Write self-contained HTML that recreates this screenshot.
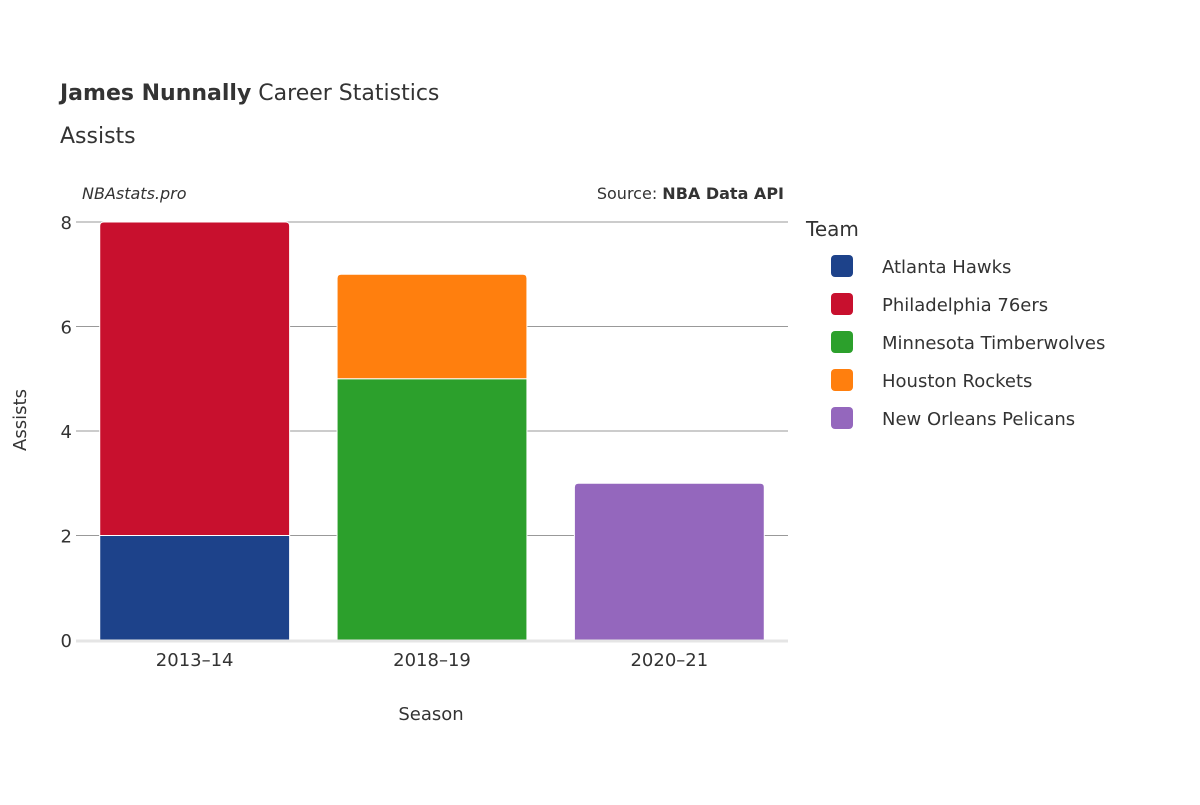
<!DOCTYPE html>
<html><head><meta charset="utf-8"><style>
body{margin:0;background:#fff;}
svg text{font-family:"DejaVu Sans","Liberation Sans",sans-serif;fill:#333;}
</style></head><body>
<svg id="chart" width="1200" height="800" xmlns="http://www.w3.org/2000/svg">
<text x="60" y="100" font-size="22"><tspan font-weight="bold">James Nunnally</tspan> Career Statistics</text>
<text x="60" y="143" font-size="22">Assists</text>
<text x="82" y="199" font-size="16" font-style="italic">NBAstats.pro</text>
<text x="784" y="199" font-size="16" text-anchor="end">Source: <tspan font-weight="bold">NBA Data API</tspan></text>
<g id="grid"></g>
<g id="bars"></g>
<g id="axes"></g>
<text x="431" y="720" font-size="18" text-anchor="middle">Season</text>
<text transform="translate(26,420) rotate(-90)" font-size="18" text-anchor="middle">Assists</text>
<g id="legend"></g>
</svg>
<script>
const seasons=["2013–14","2018–19","2020–21"];
const teams=["Atlanta Hawks","Philadelphia 76ers","Minnesota Timberwolves","Houston Rockets","New Orleans Pelicans"];
const colors=["#1d428a","#c8102e","#2ca02c","#ff7f0e","#9467bd"];
const atl=[2,0,0];
const phi=[6,0,0];
const min=[0,5,0];
const hou=[0,2,0];
const nop=[0,0,3];
const yTicks=[0,2,4,6,8];
const series=[atl,phi,min,hou,nop];
const NS="http://www.w3.org/2000/svg";
const X0=76,X1=788,Y0=640,Y1=222,YMAX=8;
const band=(X1-X0)/seasons.length;
const y=v=>Y0-(v/YMAX)*(Y0-Y1);
const xc=i=>X0+band*(i+0.5);
function mk(tag,attrs,parent){const e=document.createElementNS(NS,tag);for(const k in attrs)e.setAttribute(k,attrs[k]);parent.appendChild(e);return e;}
const grid=document.getElementById('grid'),bars=document.getElementById('bars'),axes=document.getElementById('axes'),legend=document.getElementById('legend');
yTicks.forEach(t=>{
 if(t>0){const l=mk('line',{x1:X0,x2:X1,y1:y(t),y2:y(t),stroke:'#999','stroke-width':1},grid);
 
 }
 const tx=mk('text',{x:X0-4,y:y(t)+7,'font-size':18,'text-anchor':'end'},axes);tx.textContent=t;
 
 
});
const bw=band*0.8;
seasons.forEach((s,i)=>{
 let base=0;
 const top=series.reduce((m,ser,k)=>ser[i]>0?k:m,-1);
 series.forEach((ser,k)=>{
  const v=ser[i]; if(!v)return;
  const x=xc(i)-bw/2,yt=y(base+v),yb=y(base),r=k===top?4:0;
  const d=`M${x},${yb}L${x},${yt+r}Q${x},${yt} ${x+r},${yt}L${x+bw-r},${yt}Q${x+bw},${yt} ${x+bw},${yt+r}L${x+bw},${yb}Z`;
  const p=mk('path',{d:d,fill:colors[k],stroke:'#fff','stroke-width':1},bars);
  
  
  base+=v;
 });
 const tx=mk('text',{x:xc(i),y:666,'font-size':18,'text-anchor':'middle'},axes);tx.textContent=s;
 
 
});
const zl=mk('line',{x1:X0,x2:X1,y1:Y0+1,y2:Y0+1,stroke:'#e5e5e5','stroke-width':3},axes);


const lt=mk('text',{x:806,y:236,'font-size':20},legend);lt.textContent='Team';


teams.forEach((t,k)=>{
 const g=mk('g',{},legend);
 
 
 const cy=266+38*k;
 mk('rect',{x:831,y:cy-11,width:22,height:22,rx:4,fill:colors[k]},g);
 const tx=mk('text',{x:882,y:cy+7,'font-size':18},g);tx.textContent=t;
});
</script>
</body></html>
